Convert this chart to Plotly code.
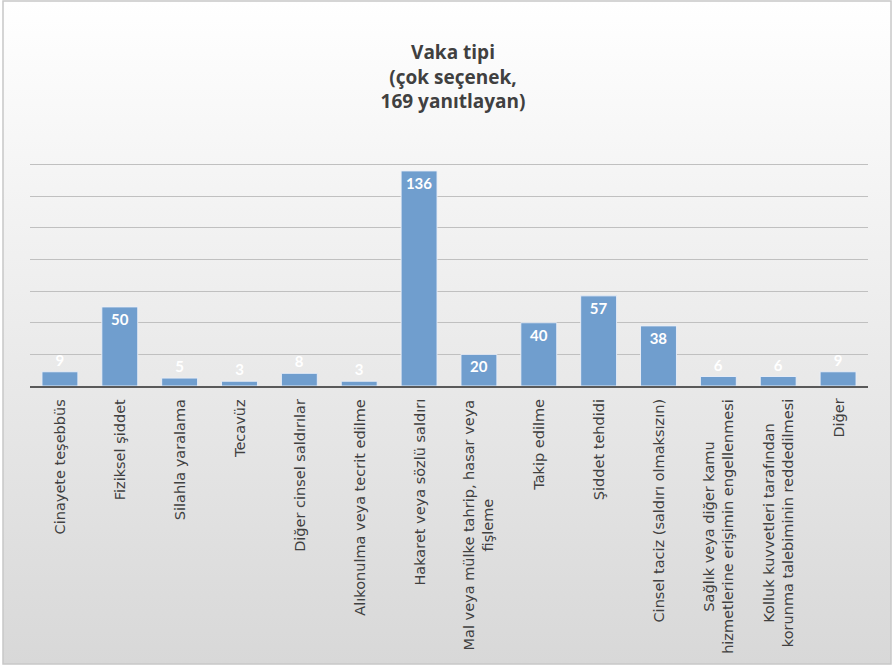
import plotly.graph_objects as go
import base64

categories = [
    "Cinayete teşebbüs",
    "Fiziksel şiddet",
    "Silahla yaralama",
    "Tecavüz",
    "Diğer cinsel saldırılar",
    "Alıkonulma veya tecrit edilme",
    "Hakaret veya sözlü saldırı",
    "Mal veya mülke tahrip, hasar veya<br>fişleme",
    "Takip edilme",
    "Şiddet tehdidi",
    "Cinsel taciz (saldırı olmaksızın)",
    "Sağlık veya diğer kamu<br>hizmetlerine erişimin engellenmesi",
    "Kolluk kuvvetleri tarafından<br>korunma talebiminin reddedilmesi",
    "Diğer",
]
values = [9, 50, 5, 3, 8, 3, 136, 20, 40, 57, 38, 6, 6, 9]
title_lines = ["Vaka tipi", "(çok seçenek,", "169 yanıtlayan)"]

W, H = 894, 666
ML, MR, MT, MB = 30, 26, 133, 280
PW, PH = W - ML - MR, H - MT - MB

svg = f'''<svg xmlns="http://www.w3.org/2000/svg" width="{W}" height="{H}" viewBox="0 0 {W} {H}">
<defs><linearGradient id="g" x1="0" y1="0" x2="0" y2="1">
<stop offset="0" stop-color="#ffffff"/><stop offset="1" stop-color="#d8d8d8"/></linearGradient></defs>
<rect x="0" y="0" width="{W}" height="{H}" fill="#ffffff"/>
<rect x="3" y="1" width="{W-6}" height="{H-3}" fill="url(#g)" stroke="#c8c8c8" stroke-width="1.5"/>
</svg>'''
src = "data:image/svg+xml;base64," + base64.b64encode(svg.encode()).decode()

positions = ["inside" if v >= 20 else "outside" for v in values]

fig = go.Figure(
    go.Bar(
        x=list(range(len(categories))),
        y=values,
        text=[str(v) for v in values],
        textposition=positions,
        insidetextanchor="end",
        textangle=0,
        constraintext="none",
        cliponaxis=False,
        textfont=dict(family="Lato", size=15, color="white", weight="bold"),
        marker=dict(color="#709ece", line=dict(color="rgba(235,240,248,0.9)", width=1)),
        width=0.6,
        hoverinfo="skip",
    )
)

annotations = []
for i, c in enumerate(categories):
    annotations.append(dict(
        x=i, xref="x", y=-11 / PH, yref="paper",
        text=c, showarrow=False, textangle=-90,
        xanchor="center", yanchor="top", align="center",
        font=dict(family="DejaVu Sans", size=14.5, color="#404040"),
    ))

fig.update_layout(
    width=W, height=H,
    margin=dict(l=ML, r=MR, t=MT, b=MB, pad=0),
    paper_bgcolor="rgba(0,0,0,0)",
    plot_bgcolor="rgba(0,0,0,0)",
    showlegend=False,
    title=dict(
        text="<br>".join(title_lines),
        x=453 / W, xanchor="center",
        y=1 - 59 / H, yanchor="middle", yref="container",
        font=dict(family="Open Sans", size=19, color="#404040", weight="bold"),
    ),
    xaxis=dict(
        range=[-0.5, len(categories) - 0.5],
        showticklabels=False, showgrid=False, zeroline=False,
        showline=True, linecolor="#595959", linewidth=2, ticks="",
        fixedrange=True,
    ),
    yaxis=dict(
        range=[0, 160], dtick=20, showticklabels=False,
        showgrid=True, gridcolor="#c0c0c0", gridwidth=1,
        zeroline=False, showline=False, ticks="", fixedrange=True,
    ),
    images=[dict(
        source=src, xref="paper", yref="paper",
        x=-ML / PW, y=1 + MT / PH, sizex=W / PW, sizey=H / PH,
        xanchor="left", yanchor="top", sizing="stretch", layer="below",
    )],
    annotations=annotations,
)

fig.write_html(
    "out.html",
    config={"displayModeBar": False, "staticPlot": True},
    post_script="document.body.style.margin='0';document.body.style.overflow='hidden';",
)
